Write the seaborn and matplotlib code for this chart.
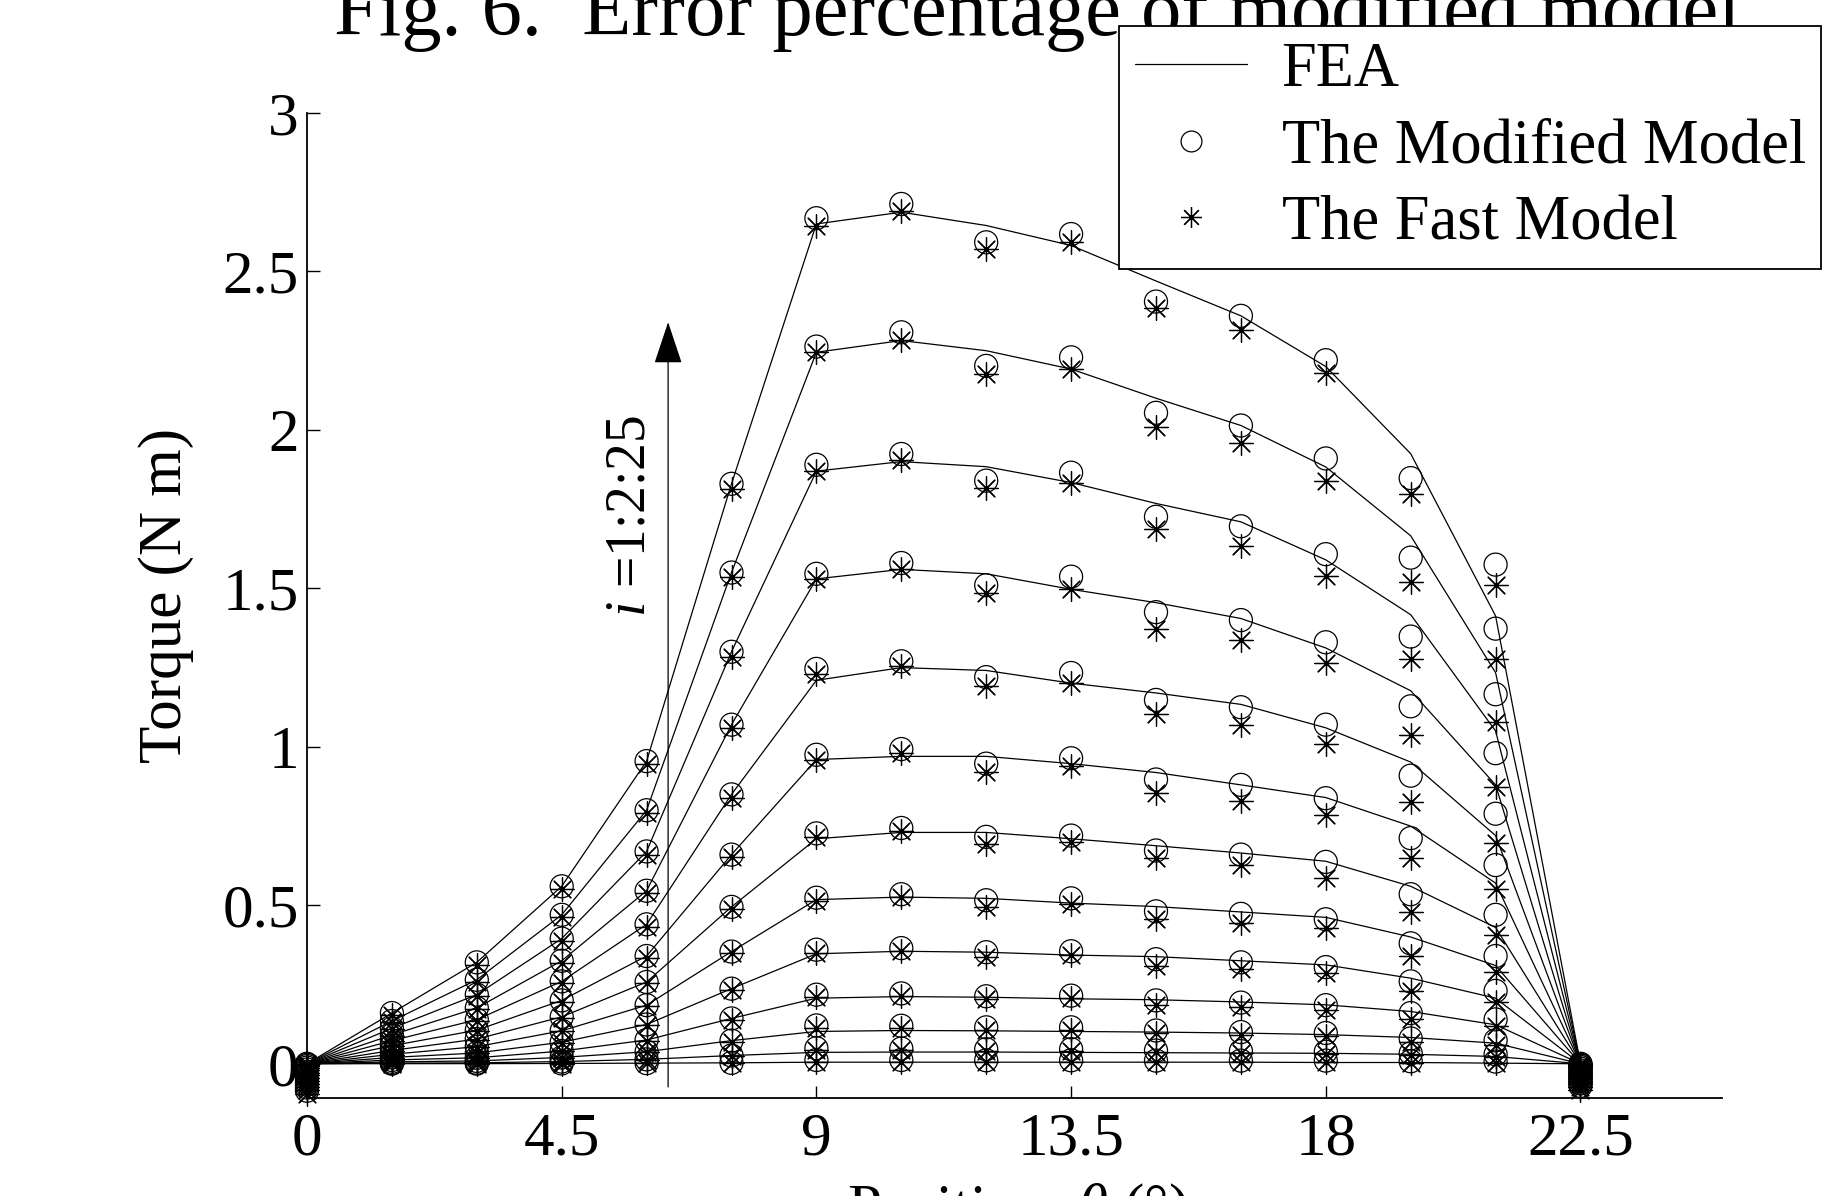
import matplotlib
matplotlib.use("Agg")
import matplotlib.pyplot as plt
import pandas as pd
import seaborn as sns
from matplotlib.lines import Line2D
from matplotlib.patches import FancyArrowPatch

# ---------------- data ----------------
POSITIONS = [0, 1.5, 3, 4.5, 6, 7.5, 9, 10.5, 12, 13.5, 15, 16.5, 18, 19.5, 21, 22.5]
CURRENTS = [25, 23, 21, 19, 17, 15, 13, 11, 9, 7, 5, 3, 1]

# one row per rotor position, values ordered as CURRENTS (25 A ... 1 A)
FEA = [
    [0, 0, 0, 0, 0, 0, 0, 0, 0, 0, 0, 0, 0],
    [0.16, 0.135, 0.112, 0.091, 0.073, 0.057, 0.042, 0.030, 0.020, 0.012, 0.006, 0.002, 0.0003],
    [0.32, 0.265, 0.218, 0.176, 0.139, 0.106, 0.078, 0.054, 0.034, 0.019, 0.009, 0.003, 0.0004],
    [0.56, 0.47, 0.395, 0.325, 0.26, 0.20, 0.148, 0.104, 0.068, 0.040, 0.020, 0.007, 0.001],
    [0.955, 0.80, 0.67, 0.546, 0.44, 0.34, 0.258, 0.185, 0.124, 0.075, 0.038, 0.014, 0.002],
    [1.83, 1.55, 1.30, 1.07, 0.85, 0.66, 0.495, 0.354, 0.237, 0.143, 0.073, 0.026, 0.003],
    [2.65, 2.245, 1.87, 1.53, 1.21, 0.96, 0.71, 0.518, 0.347, 0.207, 0.102, 0.036, 0.005],
    [2.687, 2.282, 1.90, 1.56, 1.25, 0.97, 0.73, 0.526, 0.355, 0.212, 0.105, 0.037, 0.005],
    [2.645, 2.25, 1.884, 1.546, 1.241, 0.97, 0.73, 0.522, 0.352, 0.21, 0.104, 0.037, 0.005],
    [2.582, 2.192, 1.834, 1.497, 1.201, 0.947, 0.71, 0.507, 0.343, 0.205, 0.102, 0.036, 0.005],
    [2.47, 2.10, 1.768, 1.455, 1.17, 0.919, 0.688, 0.496, 0.338, 0.202, 0.10, 0.035, 0.005],
    [2.36, 2.014, 1.71, 1.405, 1.134, 0.88, 0.665, 0.479, 0.325, 0.195, 0.097, 0.034, 0.005],
    [2.20, 1.883, 1.59, 1.312, 1.06, 0.84, 0.639, 0.462, 0.312, 0.186, 0.092, 0.033, 0.004],
    [1.925, 1.666, 1.417, 1.177, 0.952, 0.75, 0.56, 0.40, 0.27, 0.165, 0.083, 0.030, 0.004],
    [1.413, 1.234, 1.05, 0.88, 0.72, 0.57, 0.43, 0.31, 0.207, 0.123, 0.065, 0.023, 0.002],
    [0, 0, 0, 0, 0, 0, 0, 0, 0, 0, 0, 0, 0],
]

MODIFIED = [
    [-0.085, -0.075, -0.066, -0.057, -0.048, -0.040, -0.032, -0.025, -0.018, -0.012, -0.007, -0.003, 0.0],
    [0.16, 0.135, 0.112, 0.091, 0.073, 0.057, 0.042, 0.030, 0.020, 0.012, 0.006, 0.002, 0.0003],
    [0.32, 0.265, 0.218, 0.176, 0.139, 0.106, 0.078, 0.054, 0.034, 0.019, 0.009, 0.003, 0.0004],
    [0.56, 0.47, 0.395, 0.325, 0.26, 0.20, 0.148, 0.104, 0.068, 0.040, 0.020, 0.007, 0.001],
    [0.955, 0.80, 0.67, 0.546, 0.44, 0.34, 0.258, 0.185, 0.124, 0.075, 0.038, 0.014, 0.002],
    [1.83, 1.55, 1.30, 1.07, 0.85, 0.66, 0.495, 0.354, 0.237, 0.143, 0.073, 0.026, 0.003],
    [2.668, 2.263, 1.89, 1.546, 1.246, 0.975, 0.727, 0.524, 0.36, 0.218, 0.121, 0.049, 0.012],
    [2.713, 2.308, 1.924, 1.58, 1.27, 0.993, 0.744, 0.535, 0.365, 0.222, 0.12, 0.048, 0.012],
    [2.592, 2.202, 1.84, 1.51, 1.22, 0.947, 0.716, 0.516, 0.352, 0.213, 0.115, 0.046, 0.011],
    [2.618, 2.229, 1.865, 1.537, 1.233, 0.964, 0.72, 0.522, 0.355, 0.215, 0.115, 0.046, 0.011],
    [2.405, 2.054, 1.726, 1.425, 1.148, 0.897, 0.673, 0.481, 0.33, 0.20, 0.105, 0.042, 0.010],
    [2.36, 2.014, 1.696, 1.40, 1.125, 0.88, 0.66, 0.473, 0.32, 0.193, 0.10, 0.040, 0.010],
    [2.22, 1.91, 1.608, 1.33, 1.07, 0.838, 0.637, 0.456, 0.305, 0.185, 0.097, 0.038, 0.010],
    [1.848, 1.597, 1.348, 1.128, 0.909, 0.712, 0.535, 0.38, 0.26, 0.16, 0.08, 0.033, 0.008],
    [1.575, 1.373, 1.166, 0.98, 0.789, 0.627, 0.47, 0.34, 0.23, 0.14, 0.074, 0.030, 0.007],
    [-0.07, -0.062, -0.055, -0.048, -0.041, -0.034, -0.027, -0.021, -0.015, -0.010, -0.006, -0.003, 0.0],
]

FAST = [
    [-0.095, -0.084, -0.074, -0.064, -0.054, -0.045, -0.036, -0.028, -0.020, -0.014, -0.008, -0.004, -0.001],
    [0.155, 0.131, 0.109, 0.088, 0.071, 0.055, 0.041, 0.029, 0.019, 0.011, 0.005, 0.002, 0.0],
    [0.312, 0.259, 0.213, 0.172, 0.136, 0.104, 0.076, 0.053, 0.033, 0.018, 0.008, 0.003, 0.0],
    [0.55, 0.462, 0.388, 0.319, 0.255, 0.196, 0.145, 0.102, 0.066, 0.039, 0.019, 0.006, 0.0],
    [0.945, 0.79, 0.66, 0.538, 0.433, 0.335, 0.254, 0.182, 0.121, 0.073, 0.036, 0.013, 0.001],
    [1.815, 1.535, 1.285, 1.058, 0.84, 0.652, 0.488, 0.349, 0.232, 0.139, 0.070, 0.024, 0.002],
    [2.645, 2.245, 1.87, 1.53, 1.23, 0.96, 0.715, 0.514, 0.35, 0.21, 0.112, 0.042, 0.007],
    [2.69, 2.285, 1.905, 1.562, 1.255, 0.98, 0.735, 0.526, 0.357, 0.215, 0.113, 0.042, 0.007],
    [2.571, 2.176, 1.817, 1.486, 1.192, 0.92, 0.693, 0.496, 0.337, 0.203, 0.106, 0.040, 0.006],
    [2.592, 2.192, 1.834, 1.497, 1.201, 0.94, 0.70, 0.505, 0.343, 0.207, 0.108, 0.040, 0.006],
    [2.384, 2.01, 1.687, 1.373, 1.105, 0.854, 0.648, 0.456, 0.31, 0.186, 0.096, 0.036, 0.005],
    [2.316, 1.958, 1.633, 1.337, 1.068, 0.829, 0.626, 0.445, 0.30, 0.18, 0.092, 0.034, 0.005],
    [2.18, 1.84, 1.54, 1.264, 1.01, 0.784, 0.586, 0.428, 0.285, 0.17, 0.088, 0.032, 0.005],
    [1.798, 1.52, 1.276, 1.036, 0.825, 0.648, 0.48, 0.34, 0.23, 0.14, 0.070, 0.027, 0.004],
    [1.51, 1.276, 1.079, 0.874, 0.698, 0.55, 0.405, 0.29, 0.195, 0.118, 0.060, 0.022, 0.003],
    [-0.082, -0.073, -0.064, -0.056, -0.048, -0.040, -0.032, -0.025, -0.018, -0.012, -0.007, -0.003, -0.001],
]

XTICKS = [0, 4.5, 9, 13.5, 18, 22.5]
XTICK_LABELS = ["0", "4.5", "9", "13.5", "18", "22.5"]
YTICKS = [0, 0.5, 1, 1.5, 2, 2.5, 3]
YTICK_LABELS = ["0", "0.5", "1", "1.5", "2", "2.5", "3"]
LEGEND_LABELS = ["FEA", "The Modified Model", "The Fast Model"]

# ---------------- long-form table ----------------
rows = []
for p, f_col, m_col, s_col in zip(POSITIONS, FEA, MODIFIED, FAST):
    for cur, fv, mv, sv in zip(CURRENTS, f_col, m_col, s_col):
        rows.append({"position": p, "current": cur, "fea": fv,
                     "modified": mv, "fast": sv})
df = pd.DataFrame(rows)

# ---------------- style ----------------
sns.set_theme(style="white")
plt.rcParams["font.family"] = ["Liberation Serif", "DejaVu Serif"]
plt.rcParams["mathtext.fontset"] = "custom"
plt.rcParams["mathtext.rm"] = "Liberation Serif"
plt.rcParams["mathtext.it"] = "Liberation Serif:italic"
plt.rcParams["axes.unicode_minus"] = False

W, H = 1831, 1196
fig = plt.figure(figsize=(W / 100, H / 100), dpi=100)
ax_left, ax_right, ax_top, ax_bottom = 307, 1722, 113, 1098
ax = fig.add_axes([ax_left / W, 1 - ax_bottom / H,
                   (ax_right - ax_left) / W, (ax_bottom - ax_top) / H])

ASTERISK = (8, 2, 0)

sns.lineplot(data=df, x="position", y="fea", units="current", estimator=None,
             color="black", linewidth=0.9, legend=False, ax=ax)
sns.scatterplot(data=df, x="position", y="modified", marker="o", s=275,
                color="black", facecolor="none", edgecolor="black",
                linewidth=0.9, legend=False, ax=ax, clip_on=False, zorder=3)
sns.scatterplot(data=df, x="position", y="fast", marker=ASTERISK, s=290,
                color="black", linewidth=0.9, legend=False, ax=ax,
                clip_on=False, zorder=3)

ax.set_xlim(0, 25)
ax.set_ylim(-0.108, 3)
ax.set_xticks(XTICKS)
ax.set_xticklabels(XTICK_LABELS)
ax.set_yticks(YTICKS)
ax.set_yticklabels(YTICK_LABELS)
ax.tick_params(axis="both", direction="in", length=9, width=1.0,
               labelsize=44, colors="black")
ax.tick_params(axis="x", pad=10, bottom=True)
ax.tick_params(axis="y", pad=6, left=True)
sns.despine(ax=ax)
for sp in ("left", "bottom"):
    ax.spines[sp].set_color("black")
    ax.spines[sp].set_linewidth(1.3)

ax.set_xlabel("")
ax.set_ylabel("Torque (N m)", fontsize=44, color="black")
ax.yaxis.set_label_coords((194 - ax_left) / (ax_right - ax_left), 0.51)

# partially visible x label (cut by the lower figure edge)
fig.text(1017 / W, 1 - 1226 / H, r"Position  $\theta$ (°)", ha="center",
         va="baseline", fontsize=44, color="black")

# caption of the preceding figure, cut by the upper edge
fig.text(0.572, 1 - 35 / H, "Fig. 6.  Error percentage of modified model.",
         ha="center", va="baseline", fontsize=58, color="black")

# current annotation arrow
arrow = FancyArrowPatch((6.38, -0.073), (6.38, 2.34),
                        arrowstyle="-|>,head_length=27,head_width=9",
                        mutation_scale=1, color="black", linewidth=0.9,
                        shrinkA=0, shrinkB=0)
ax.add_patch(arrow)
ax.text(5.72, 1.73, r"$i$ =1:2:25", rotation=90, ha="center", va="center",
        fontsize=40, color="black")

# legend
handles = [
    Line2D([], [], color="black", linewidth=0.9),
    Line2D([], [], color="black", marker="o", linestyle="none",
           markerfacecolor="none", markeredgecolor="black", markersize=15,
           markeredgewidth=0.9),
    Line2D([], [], color="black", marker=ASTERISK, linestyle="none",
           markersize=15, markeredgewidth=0.9),
]
leg = fig.legend(handles, LEGEND_LABELS, loc="upper left",
                 bbox_to_anchor=(1119 / W, 1 - 26 / H),
                 bbox_transform=fig.transFigure, fontsize=45, frameon=True,
                 fancybox=False, edgecolor="black", framealpha=1,
                 handlelength=1.8, handletextpad=0.55, labelspacing=0.3,
                 borderpad=0.25, borderaxespad=0)
leg.get_frame().set_linewidth(1.3)
for t in leg.get_texts():
    t.set_color("black")

fig.savefig("out.png", dpi=100, facecolor="white")
